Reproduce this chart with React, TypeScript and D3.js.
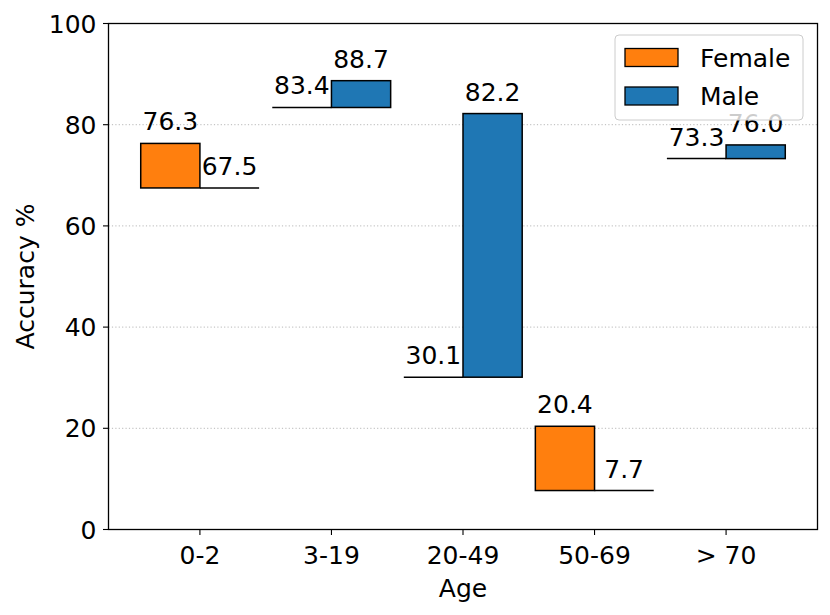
import React from 'react'
import * as d3 from 'd3'

const ageGroups = ['0-2', '3-19', '20-49', '50-69', '> 70']
const femaleAcc = [76.3, 83.4, 30.1, 20.4, 73.3]
const maleAcc = [67.5, 88.7, 82.2, 7.7, 76.0]
const yTicks = [0, 20, 40, 60, 80, 100]

const width = 830
const height = 615
const margin = { top: 23.5, right: 12.5, bottom: 85.5, left: 108.5 }
const barWidth = 0.45
const font = '"DejaVu Sans", sans-serif'
const fontSize = 25

const series = [
  { name: 'Female', values: femaleAcc, color: '#ff7f0e', offset: -barWidth / 2 },
  { name: 'Male', values: maleAcc, color: '#1f77b4', offset: barWidth / 2 },
]

export default function App() {
  const x = d3.scaleLinear()
    .domain([-0.695, 4.695])
    .range([margin.left, width - margin.right])
  const y = d3.scaleLinear()
    .domain([0, 100])
    .range([height - margin.bottom, margin.top])

  const x0 = margin.left
  const x1 = width - margin.right
  const y0 = height - margin.bottom
  const y1 = margin.top
  const bw = x(barWidth) - x(0)

  return (
    <svg width={width} height={height} style={{ position: 'absolute', left: 0, top: 0, background: '#fff' }}
      fontFamily={font}>
      {/* grid */}
      {yTicks.filter(t => t > 0 && t < 100).map(t => (
        <line key={t} x1={x0} x2={x1} y1={y(t)} y2={y(t)}
          stroke="#b8b8b8" strokeWidth={1} strokeDasharray="1.2,2.2" />
      ))}

      {/* bars */}
      {series.map(s => ageGroups.map((g, i) => {
        const base = Math.min(femaleAcc[i], maleAcc[i])
        const v = s.values[i]
        const left = x(i + s.offset) - bw / 2
        if (v - base < 1e-9) {
          return (
            <line key={s.name + g} x1={left} x2={left + bw} y1={y(base)} y2={y(base)}
              stroke="#000" strokeWidth={1.5} />
          )
        }
        return (
          <rect key={s.name + g} x={left} y={y(v)} width={bw} height={y(base) - y(v)}
            fill={s.color} stroke="#000" strokeWidth={1.5} />
        )
      }))}

      {/* value labels */}
      {series.map(s => ageGroups.map((g, i) => (
        <text key={'l' + s.name + g} x={x(i + s.offset)} y={y(s.values[i]) - 13}
          textAnchor="middle" fontSize={fontSize} fill="#000">
          {s.values[i].toFixed(1)}
        </text>
      )))}

      {/* frame */}
      <rect x={x0} y={y1} width={x1 - x0} height={y0 - y1} fill="none" stroke="#000" strokeWidth={1.3} />

      {/* y axis */}
      {yTicks.map(t => (
        <g key={'y' + t}>
          <line x1={x0 - 5.5} x2={x0} y1={y(t)} y2={y(t)} stroke="#000" strokeWidth={1.1} />
          <text x={x0 - 12} y={y(t)} dy="0.36em" textAnchor="end" fontSize={fontSize}>{t}</text>
        </g>
      ))}
      <text transform={`translate(33.5,${(y0 + y1) / 2}) rotate(-90)`} textAnchor="middle" fontSize={fontSize}>
        Accuracy %
      </text>

      {/* x axis */}
      {ageGroups.map((g, i) => (
        <g key={'x' + g}>
          <line x1={x(i)} x2={x(i)} y1={y0} y2={y0 + 5.5} stroke="#000" strokeWidth={1.1} />
          <text x={x(i)} y={563.5} textAnchor="middle" fontSize={fontSize}>{g}</text>
        </g>
      ))}
      <text x={(x0 + x1) / 2} y={596.5} textAnchor="middle" fontSize={fontSize}>Age</text>

      {/* legend */}
      <g>
        <rect x={615} y={35} width={188} height={85} rx={4} fill="#fff" fillOpacity={0.8}
          stroke="#cccccc" strokeWidth={1} />
        {series.map((s, i) => (
          <g key={'lg' + s.name} transform={`translate(0,${i * 38.5})`}>
            <rect x={625} y={48.5} width={53} height={18} fill={s.color} stroke="#000" strokeWidth={1.3} />
            <text x={700} y={66.5} fontSize={fontSize}>{s.name}</text>
          </g>
        ))}
      </g>
    </svg>
  )
}
